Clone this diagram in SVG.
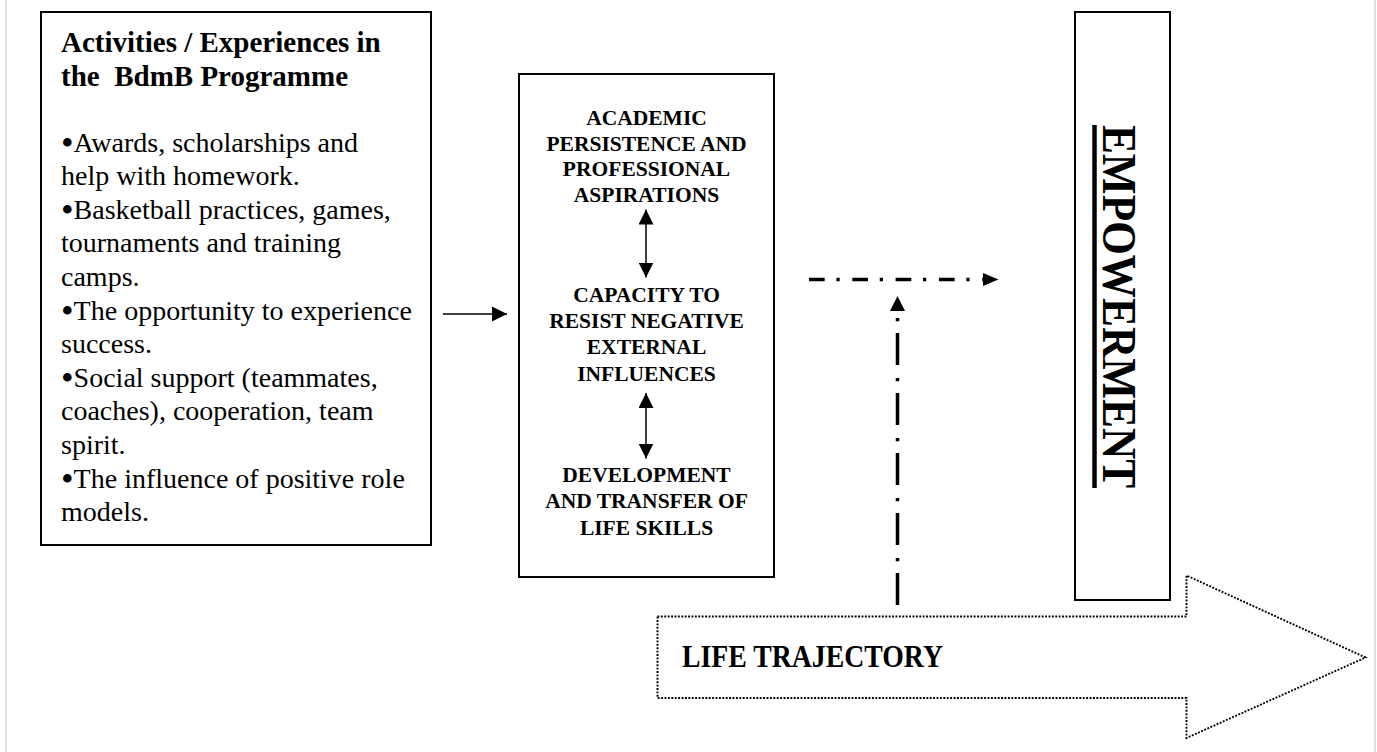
<svg xmlns="http://www.w3.org/2000/svg" width="1377" height="752" viewBox="0 0 1377 752">
  <style>
    .box { fill: #ffffff; stroke: #000000; stroke-width: 2; }
    .serif { font-family: "Liberation Serif", "Times New Roman", serif; fill: #000000; }
    .head { font-size: 29px; font-weight: bold; }
    .item { font-size: 28px; }
    .bul { font-size: 36px; }
    .cap { font-size: 21.5px; font-weight: bold; text-anchor: middle; }
    .solid { stroke: #000000; stroke-width: 1.5; fill: none; }
    .dashdot { stroke: #000000; stroke-width: 3.5; fill: none; }
    .dotted { fill: #ffffff; stroke: #000000; stroke-width: 1.9; stroke-dasharray: 1.9 1.5; }
    .page { stroke: #d6d6d6; stroke-width: 1.5; }
  </style>
  <defs>
    <marker id="tri" viewBox="0 0 10 10" refX="10" refY="5" markerWidth="15" markerHeight="15" markerUnits="userSpaceOnUse" orient="auto-start-reverse">
      <path d="M0,0 L10,5 L0,10 Z" fill="#000000"/>
    </marker>
  </defs>

  <rect width="1377" height="752" fill="#ffffff"/>
  <!-- page edges -->
  <line class="page" x1="6" y1="0" x2="6" y2="752"/>
  <line class="page" x1="1375" y1="0" x2="1375" y2="752"/>

  <!-- life trajectory band (drawn first, sits behind the rest) -->
  <g id="life-trajectory">
    <polygon class="dotted" points="657.5,616.5 1186.5,616.5 1186.5,575.5 1365.5,657.5 1186.5,738 1186.5,698 657.5,698"/>
    <text class="serif" x="682" y="667" font-size="31" font-weight="bold" textLength="261" lengthAdjust="spacingAndGlyphs">LIFE TRAJECTORY</text>
  </g>

  <!-- programme activities -->
  <g id="activities">
    <rect class="box" x="41" y="12" width="390" height="533"/>
    <text class="serif head" x="61" y="52">Activities / Experiences in</text>
    <text class="serif head" x="61" y="86" xml:space="preserve">the  BdmB Programme</text>
    <text class="serif item" x="61" y="152"><tspan class="bul" dy="3">•</tspan><tspan dy="-3">Awards, scholarships and</tspan></text>
    <text class="serif item" x="61" y="185">help with homework.</text>
    <text class="serif item" x="61" y="219"><tspan class="bul" dy="3">•</tspan><tspan dy="-3">Basketball practices, games,</tspan></text>
    <text class="serif item" x="61" y="252">tournaments and training</text>
    <text class="serif item" x="61" y="286">camps.</text>
    <text class="serif item" x="61" y="320"><tspan class="bul" dy="3">•</tspan><tspan dy="-3">The opportunity to experience</tspan></text>
    <text class="serif item" x="61" y="353">success.</text>
    <text class="serif item" x="61" y="387"><tspan class="bul" dy="3">•</tspan><tspan dy="-3">Social support (teammates,</tspan></text>
    <text class="serif item" x="61" y="420">coaches), cooperation, team</text>
    <text class="serif item" x="61" y="454">spirit.</text>
    <text class="serif item" x="61" y="488"><tspan class="bul" dy="3">•</tspan><tspan dy="-3">The influence of positive role</tspan></text>
    <text class="serif item" x="61" y="521">models.</text>
  </g>

  <!-- outcomes -->
  <g id="outcomes">
    <rect class="box" x="519" y="74" width="255" height="503"/>
    <text class="serif cap" x="646.5" y="125">ACADEMIC</text>
    <text class="serif cap" x="646.5" y="151">PERSISTENCE AND</text>
    <text class="serif cap" x="646.5" y="176">PROFESSIONAL</text>
    <text class="serif cap" x="646.5" y="202">ASPIRATIONS</text>
    <text class="serif cap" x="646.5" y="302">CAPACITY TO</text>
    <text class="serif cap" x="646.5" y="328">RESIST NEGATIVE</text>
    <text class="serif cap" x="646.5" y="354">EXTERNAL</text>
    <text class="serif cap" x="646.5" y="381">INFLUENCES</text>
    <text class="serif cap" x="646.5" y="482">DEVELOPMENT</text>
    <text class="serif cap" x="646.5" y="508">AND TRANSFER OF</text>
    <text class="serif cap" x="646.5" y="535">LIFE SKILLS</text>
  </g>

  <!-- empowerment -->
  <g id="empowerment">
    <rect class="box" x="1075" y="12" width="95" height="588"/>
    <text class="serif" transform="translate(1103,306.5) rotate(90)" x="0" y="0" text-anchor="middle" font-size="48" font-weight="bold" textLength="363" lengthAdjust="spacingAndGlyphs">EMPOWERMENT</text>
    <line x1="1094.5" y1="125" x2="1094.5" y2="488" stroke="#000000" stroke-width="4.5"/>
  </g>

  <!-- connectors -->
  <g id="connectors">
    <!-- activities to outcomes -->
    <line class="solid" x1="443" y1="314" x2="507" y2="314" marker-end="url(#tri)"/>
    <!-- links between outcomes -->
    <line class="solid" x1="646" y1="209.5" x2="646" y2="277.5" marker-start="url(#tri)" marker-end="url(#tri)"/>
    <line class="solid" x1="646" y1="393" x2="646" y2="458.5" marker-start="url(#tri)" marker-end="url(#tri)"/>
    <!-- outcomes toward empowerment -->
    <line class="dashdot" x1="809" y1="279.5" x2="984" y2="279.5" stroke-dasharray="15.7 11.7 3.3 12.6"/>
    <polygon points="983,273 998.5,279.5 983,286" fill="#000000"/>
    <!-- life trajectory feeding in -->
    <line class="dashdot" x1="897.5" y1="605" x2="897.5" y2="311" stroke-dasharray="32 11.7 3.3 13"/>
    <polygon points="890,311 897.5,296 905,311" fill="#000000"/>
  </g>
</svg>
